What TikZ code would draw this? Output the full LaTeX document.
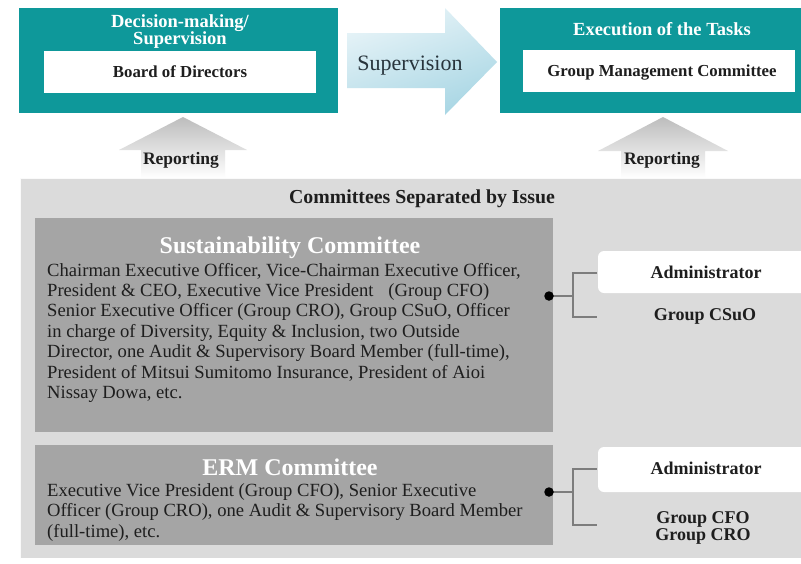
\documentclass[tikz,border=0pt]{standalone}
\usepackage{fontspec}
\setmainfont{Liberation Serif}
\definecolor{tealc}{RGB}{14,152,154}
\definecolor{panel}{RGB}{219,219,219}
\definecolor{darkbox}{RGB}{165,165,165}
\definecolor{txt}{RGB}{30,30,30}
\definecolor{arrL}{RGB}{232,244,248}
\definecolor{arrD}{RGB}{168,214,228}
\definecolor{brk}{RGB}{125,125,125}
\tikzset{
  tealbox/.style={fill=tealc, draw=none, inner sep=0pt, anchor=north west},
  whitebox/.style={fill=white, draw=none, inner sep=0pt, anchor=north west},
  headw/.style={text=white, font=\bfseries\fontsize{18.5}{18}\selectfont, inner sep=0pt, anchor=base},
  headb/.style={text=txt, font=\bfseries\fontsize{16.8}{18}\selectfont, inner sep=0pt, anchor=base},
  ctitle/.style={text=white, font=\bfseries\fontsize{24}{26}\selectfont, inner sep=0pt, anchor=base},
  bodyt/.style={text=txt, font=\fontsize{18.6}{20}\selectfont, inner sep=0pt, anchor=base west},
  labb/.style={text=txt, font=\bfseries\fontsize{18}{18}\selectfont, inner sep=0pt, anchor=base},
  repl/.style={text=txt, font=\bfseries\fontsize{17.5}{18}\selectfont, inner sep=0pt, anchor=base},
  dotn/.style={circle, fill=black, inner sep=0pt, minimum size=9.5pt},
  brline/.style={draw=brk, line width=1.3pt},
}
\begin{document}
\begin{tikzpicture}[x=1pt,y=-1pt]
\useasboundingbox (0,0) rectangle (801,563);
\fill[white] (0,0) rectangle (801,563);

% top teal boxes
\node[tealbox, minimum width=319pt, minimum height=105pt] (dm) at (19,8) {};
\node[whitebox, minimum width=272pt, minimum height=42pt] (bod) at (44,51) {};
\node[headw] (dmt1) at (180,27) {Decision-making/};
\node[headw] (dmt2) at (180,44) {Supervision};
\node[headb] (bodt) at (180,77) {Board of Directors};

\node[tealbox, minimum width=301pt, minimum height=105pt] (ex) at (500,8) {};
\node[whitebox, minimum width=272pt, minimum height=42pt] (gmc) at (523,50) {};
\node[headw] (ext) at (662,35) {Execution of the Tasks};
\node[headb] (gmct) at (662,76) {Group Management Committee};

% supervision arrow
\shade[top color=arrL, bottom color=arrD, shading angle=20]
  (347,33) -- (445,33) -- (445,8) -- (497,62) -- (445,115) -- (445,88) -- (347,88) -- cycle;
\node[text={rgb,255:red,40;green,52;blue,60}, font=\fontsize{22}{22}\selectfont, inner sep=0pt, anchor=base] (sup) at (410,70) {Supervision};

% reporting arrows
\shade[top color=black!26, bottom color=white]
  (183,117) -- (247,150) -- (225,150) -- (225,178) -- (141,178) -- (141,150) -- (119,150) -- cycle;
\node[repl] (rep1) at (181,164) {Reporting};
\shade[top color=black!26, bottom color=white]
  (663,117) -- (728,151) -- (705,151) -- (705,178) -- (621,178) -- (621,151) -- (598,151) -- cycle;
\node[repl] (rep2) at (662,164) {Reporting};

% committees panel
\fill[panel] (20,178) rectangle (801,558);
\draw[white!85!panel, line width=1pt] (20.5,558) -- (20.5,178.5) -- (801,178.5);
\node[text=txt, font=\bfseries\fontsize{19.8}{20}\selectfont, inner sep=0pt, anchor=base] (cti) at (422,203) {Committees Separated by Issue};

% sustainability committee
\node[fill=darkbox, inner sep=0pt, anchor=north west, minimum width=518pt, minimum height=214pt] (sus) at (35,218) {};
\node[ctitle] (sust) at (290,253) {Sustainability Committee};
\node[bodyt] (s1) at (47,276) {Chairman Executive Officer, Vice-Chairman Executive Officer,};
\node[bodyt] (s2) at (47,296.4) {President \& CEO, Executive Vice President\hspace{0.8em}(Group CFO)};
\node[bodyt] (s3) at (47,316.8) {Senior Executive Officer (Group CRO), Group CSuO, Officer};
\node[bodyt] (s4) at (47,337.2) {in charge of Diversity, Equity \& Inclusion, two Outside};
\node[bodyt] (s5) at (47,357.6) {Director, one Audit \& Supervisory Board Member (full-time),};
\node[bodyt] (s6) at (47,378) {President of Mitsui Sumitomo Insurance, President of Aioi};
\node[bodyt] (s7) at (47,398.4) {Nissay Dowa, etc.};

% ERM committee
\node[fill=darkbox, inner sep=0pt, anchor=north west, minimum width=518pt, minimum height=100pt] (erm) at (35,445) {};
\node[ctitle] (ermt) at (290,475) {ERM Committee};
\node[bodyt] (e1) at (47,496) {Executive Vice President (Group CFO), Senior Executive};
\node[bodyt] (e2) at (47,516.8) {Officer (Group CRO), one Audit \& Supervisory Board Member};
\node[bodyt] (e3) at (47,537.6) {(full-time), etc.};

% administrator 1
\fill[white, rounded corners=6pt] (598,251) rectangle (812,293);
\node[labb] (adm1t) at (706,278) {Administrator};
\node[labb] (csuo) at (705,320) {Group CSuO};
\coordinate (d1) at (549,296);
\coordinate (b1) at (573,296);
\coordinate (t1) at (597,273);
\coordinate (u1) at (597,317);
\draw[brline] (d1) -- (b1);
\draw[brline] (t1) -| (b1) |- (u1);
\node[dotn] (dot1) at (d1) {};

% administrator 2
\fill[white, rounded corners=6pt] (598,447) rectangle (812,492);
\node[labb] (adm2t) at (706,474) {Administrator};
\node[labb] (cfo) at (703,523) {Group CFO};
\node[labb] (cro) at (703,540) {Group CRO};
\coordinate (d2) at (549,492);
\coordinate (b2) at (573,492);
\coordinate (t2) at (597,469);
\coordinate (u2) at (597,525);
\draw[brline] (d2) -- (b2);
\draw[brline] (t2) -| (b2) |- (u2);
\node[dotn] (dot2) at (d2) {};
\end{tikzpicture}
\end{document}
